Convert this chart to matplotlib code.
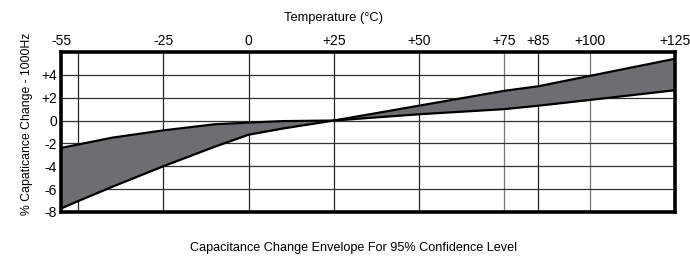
import matplotlib.pyplot as plt

plt.rcParams['font.family'] = ['Liberation Sans Narrow', 'Liberation Sans', 'DejaVu Sans']

# temperature (deg C) and envelope of % capacitance change
temps = [-55, -50, -40, -25, -10, 0, 10, 25, 50, 75, 85, 100, 125]
upper = [-2.4, -2.1, -1.5, -0.86, -0.33, -0.18, -0.05, 0, 1.3, 2.6, 3.0, 3.9, 5.4]
lower = [-7.7, -7.05, -5.8, -4.0, -2.3, -1.24, -0.7, 0, 0.55, 1.0, 1.3, 1.8, 2.65]

x_ticks = [-55, -25, 0, 25, 50, 75, 85, 100, 125]
x_labels = ['-55', '-25', '0', '+25', '+50', '+75', '+85', '+100', '+125']
y_ticks = [4, 2, 0, -2, -4, -6, -8]
y_labels = ['+4', '+2', '0', '-2', '-4', '-6', '-8']
dark_vlines = [-50, -25, 0, 25, 50, 85]
light_vlines = [75, 100]
hlines = [4, 2, 0, -2, -4, -6]

fig = plt.figure(figsize=(6.9, 2.56), dpi=100)
ax = fig.add_axes([0.0884, 0.172, 0.8896, 0.625])

for x in dark_vlines:
    ax.axvline(x, color='#222222', lw=0.9, zorder=1)
for x in light_vlines:
    ax.axvline(x, color='#777777', lw=0.9, zorder=1)
for y in hlines:
    ax.axhline(y, color='#333333', lw=0.9, zorder=1)

ax.fill_between(temps, lower, upper, color='#6d6e71', lw=0, zorder=2)
ax.plot(temps, upper, color='black', lw=1.6, zorder=3)
ax.plot(temps, lower, color='black', lw=1.6, zorder=3)

ax.set_xlim(-55, 125)
ax.set_ylim(-8, 6)
ax.xaxis.tick_top()
ax.set_xticks(x_ticks)
ax.set_xticklabels(x_labels)
ax.set_yticks(y_ticks)
ax.set_yticklabels(y_labels)
ax.tick_params(length=0, labelsize=10, pad=3)

for s in ax.spines.values():
    s.set_linewidth(2.6)
    s.set_color('black')

fig.text(0.039, 0.517, '% Capaticance Change - 1000Hz', rotation=90,
         ha='center', va='center', fontsize=8.8)
fig.text(0.483, 0.93, 'Temperature (°C)', ha='center', va='center', fontsize=9.3)
fig.text(0.512, 0.031, 'Capacitance Change Envelope For 95% Confidence Level',
         ha='center', va='center', fontsize=9.1)

fig.savefig('out.png', dpi=100)
